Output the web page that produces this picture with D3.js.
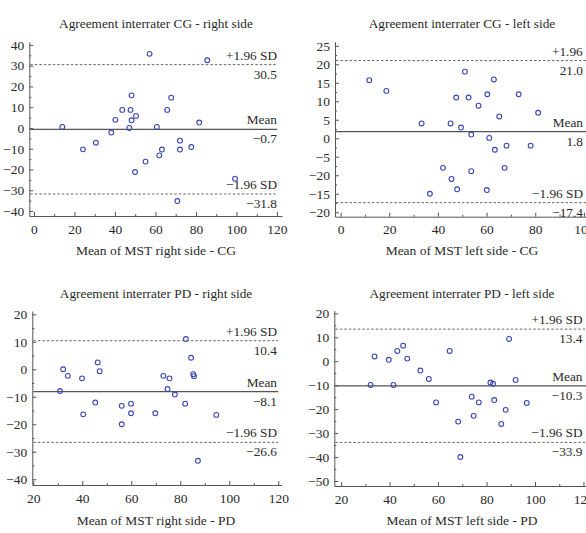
<!DOCTYPE html>
<html>
<head>
<meta charset="utf-8">
<script src="https://cdn.jsdelivr.net/npm/d3@7"></script>
<style>
  body { margin: 0; background: #fff; }
  svg text { font-family: "Liberation Serif", "DejaVu Serif", serif; fill: #2a2a2a; }
</style>
</head>
<body>
<svg id="chart" width="586" height="533"></svg>
<script>
// CG - right side
const cgRightMean = [14, 24.2, 30.6, 38.2, 40.2, 43.6, 47.1, 47.7, 48.2, 48.2, 50.4, 49.9, 57.1, 55.1, 60.7, 61.9, 63.2, 65.8, 67.8, 70.8, 72.1, 72.1, 77.7, 81.6, 85.6, 99.3];
const cgRightDiff = [0.5, -10.3, -7.1, -2.2, 3.9, 8.7, 0, 8.7, 15.7, 3.7, 5.8, -21.2, 35.7, -16.2, 0.5, -13.2, -10.4, 8.7, 14.6, -35.2, -6.1, -10.4, -9.2, 2.6, 32.6, -24.4];
const cgRightLimits = [30.5, -0.7, -31.8];

// CG - left side
const cgLeftMean = [11.8, 18.8, 33.3, 45.2, 49.5, 51.1, 47.5, 52.6, 56.7, 60.3, 63.0, 73.2, 81.2, 65.2, 53.7, 61.1, 63.4, 68.2, 78.1, 42.1, 67.4, 45.6, 53.7, 47.9, 36.7, 60.1];
const cgLeftDiff = [15.7, 12.8, 4.0, 4.0, 2.9, 18.0, 11.0, 11.0, 8.8, 11.9, 15.9, 11.9, 6.9, 5.9, 1.0, 0.1, -3.1, -2.0, -2.0, -8.0, -8.0, -11.0, -8.9, -13.8, -15.0, -14.0];
const cgLeftLimits = [21.0, 1.8, -17.4];
const cgLeftTickLabels = ["\u221220", "\u221215", "\u221220", "\u22125", "0", "5", "10", "15", "20", "25"];

// PD - right side
const pdRightMean = [30.9, 32.2, 34.1, 39.9, 40.4, 45.3, 46.3, 47.1, 56.1, 56.1, 59.9, 59.9, 69.8, 73.1, 74.8, 75.6, 77.8, 82.0, 82.3, 84.4, 85.3, 85.6, 87.2, 94.7];
const pdRightDiff = [-7.9, 0, -2.4, -3.3, -16.4, -12.1, 2.5, -0.7, -13.3, -20.0, -12.5, -16.0, -16.0, -2.4, -7.2, -3.3, -9.2, -12.5, 11.0, 4.2, -1.8, -2.5, -33.3, -16.6];
const pdRightLimits = [10.4, -8.1, -26.6];

// PD - left side
const pdLeftMean = [32.2, 33.8, 39.7, 41.6, 43.2, 45.6, 47.3, 52.7, 56.2, 59.2, 64.8, 68.3, 69.2, 73.9, 74.7, 76.8, 81.6, 82.7, 83.2, 86.1, 87.9, 89.3, 92.0, 96.6];
const pdLeftDiff = [-9.9, 2.0, 0.6, -9.9, 4.3, 6.5, 1.1, -3.9, -7.4, -17.2, 4.3, -25.2, -40.0, -14.8, -22.8, -17.2, -8.9, -9.4, -16.2, -26.2, -20.3, 9.3, -7.8, -17.4];
const pdLeftLimits = [13.4, -10.3, -33.9];

const titles = ["Agreement interrater CG - right side", "Agreement interrater CG - left side",
                "Agreement interrater PD - right side", "Agreement interrater PD - left side"];
const xTitles = ["Mean of MST right side - CG", "Mean of MST left side - CG",
                 "Mean of MST right side - PD", "Mean of MST left side - PD"];
const limitNames = ["+1.96 SD", "Mean", "\u22121.96 SD"];

const fmt = v => (v < 0 ? "\u2212" : "") + Math.abs(v).toFixed(1);
const tickFmt = v => (v < 0 ? "\u2212" : "") + Math.abs(v);

// layout per panel: pixel ranges
const panels = [
    { title: titles[0], xTitle: xTitles[0], xs: cgRightMean, ys: cgRightDiff, limits: cgRightLimits,
      xDom: [-2.3, 122.5], xRange: [29.3, 282], yDom: [-42.4, 41.4], yRange: [216, 42],
      xTicks: d3.range(0, 121, 20), xMinor: d3.range(10, 121, 20),
      yTicks: d3.range(-40, 41, 10), yMinor: d3.range(-35, 40, 10),
      lineEnd: 120, nameX: [277, 277, 277], valueX: 277, cx: 156, top: 0 },
    { title: titles[1], xTitle: xTitles[1], xs: cgLeftMean, ys: cgLeftDiff, limits: cgLeftLimits,
      xDom: [-2.3, 103], xRange: [335, 591.2], yDom: [-21.2, 26.1], yRange: [216.7, 41.7],
      xTicks: d3.range(0, 101, 20), xMinor: d3.range(10, 101, 20),
      yTicks: d3.range(-20, 26, 5), yMinor: d3.range(-17.5, 25, 5),
      lineEnd: 103, nameX: [603, 583, 583], valueX: 583, cx: 462, top: 0,
      yLabels: cgLeftTickLabels },
    { title: titles[2], xTitle: xTitles[2], xs: pdRightMean, ys: pdRightDiff, limits: pdRightLimits,
      xDom: [19.6, 121.4], xRange: [32.3, 281.7], yDom: [-42.1, 21.2], yRange: [485, 311],
      xTicks: d3.range(20, 121, 20), xMinor: d3.range(30, 121, 20),
      yTicks: d3.range(-40, 21, 10), yMinor: d3.range(-35, 20, 10),
      lineEnd: 120, nameX: [277, 277, 277], valueX: 277, cx: 156, top: 270 },
    { title: titles[3], xTitle: xTitles[3], xs: pdLeftMean, ys: pdLeftDiff, limits: pdLeftLimits,
      xDom: [17.2, 125], xRange: [334.3, 595.6], yDom: [-52.1, 21.1], yRange: [486, 310.7],
      xTicks: d3.range(20, 121, 20), xMinor: d3.range(30, 121, 20),
      yTicks: d3.range(-50, 21, 10), yMinor: d3.range(-45, 20, 10),
      lineEnd: 125, nameX: [582.5, 582.5, 582.5], valueX: 582.5, cx: 462, top: 270 }
];

const svg = d3.select("#chart");

panels.forEach(p => {
    const x = d3.scaleLinear().domain(p.xDom).range(p.xRange);
    const y = d3.scaleLinear().domain(p.yDom).range(p.yRange);
    const g = svg.append("g");
    const x0 = p.xRange[0], y0 = p.yRange[0];

    g.append("text")
        .attr("x", p.cx).attr("y", p.top + 28)
        .attr("text-anchor", "middle")
        .style("font-size", "13.3px")
        .text(p.title);

    // axes, ticks pointing inward
    const yAxis = d3.axisLeft(y).tickValues(p.yTicks).tickSize(-4).tickSizeOuter(0).tickPadding(5)
        .tickFormat((d, i) => p.yLabels ? p.yLabels[i] : tickFmt(d));
    g.append("g").attr("transform", `translate(${x0},0)`).attr("color", "#555")
        .call(yAxis)
        .selectAll("text").style("font-size", "13.5px");
    g.append("g").attr("transform", `translate(${x0},0)`).attr("color", "#555")
        .call(d3.axisLeft(y).tickValues(p.yMinor).tickSize(-2).tickFormat(""))
        .select(".domain").remove();

    const xAxis = d3.axisBottom(x).tickValues(p.xTicks).tickSize(-4).tickSizeOuter(0).tickPadding(8)
        .tickFormat(tickFmt);
    g.append("g").attr("transform", `translate(0,${y0})`).attr("color", "#555")
        .call(xAxis)
        .selectAll("text").style("font-size", "13.5px");
    g.append("g").attr("transform", `translate(0,${y0})`).attr("color", "#555")
        .call(d3.axisBottom(x).tickValues(p.xMinor).tickSize(-2).tickFormat(""))
        .select(".domain").remove();

    g.append("text")
        .attr("x", p.cx).attr("y", p.top + 255)
        .attr("text-anchor", "middle")
        .style("font-size", "13.5px")
        .text(p.xTitle);

    // limits of agreement and mean difference
    p.limits.forEach((v, i) => {
        g.append("line")
            .attr("x1", x0 + 1).attr("x2", x(p.lineEnd))
            .attr("y1", y(v)).attr("y2", y(v))
            .attr("stroke", "#555")
            .attr("stroke-width", i === 1 ? 1.2 : 0.9)
            .attr("stroke-dasharray", i === 1 ? null : "2.5,2");
        g.append("text")
            .attr("x", p.nameX[i]).attr("y", y(v) - 5)
            .attr("text-anchor", "end")
            .style("font-size", "13.3px")
            .text(limitNames[i]);
        g.append("text")
            .attr("x", p.valueX).attr("y", y(v) + 14)
            .attr("text-anchor", "end")
            .style("font-size", "13.3px")
            .text(fmt(v));
    });

    g.selectAll("circle")
        .data(p.xs.map((d, i) => [d, p.ys[i]]))
        .enter()
        .append("circle")
        .attr("cx", d => x(d[0]))
        .attr("cy", d => y(d[1]))
        .attr("r", 2.4)
        .attr("fill", "none")
        .attr("stroke", "#3848b0")
        .attr("stroke-width", 1.1);
});
</script>
</body>
</html>
